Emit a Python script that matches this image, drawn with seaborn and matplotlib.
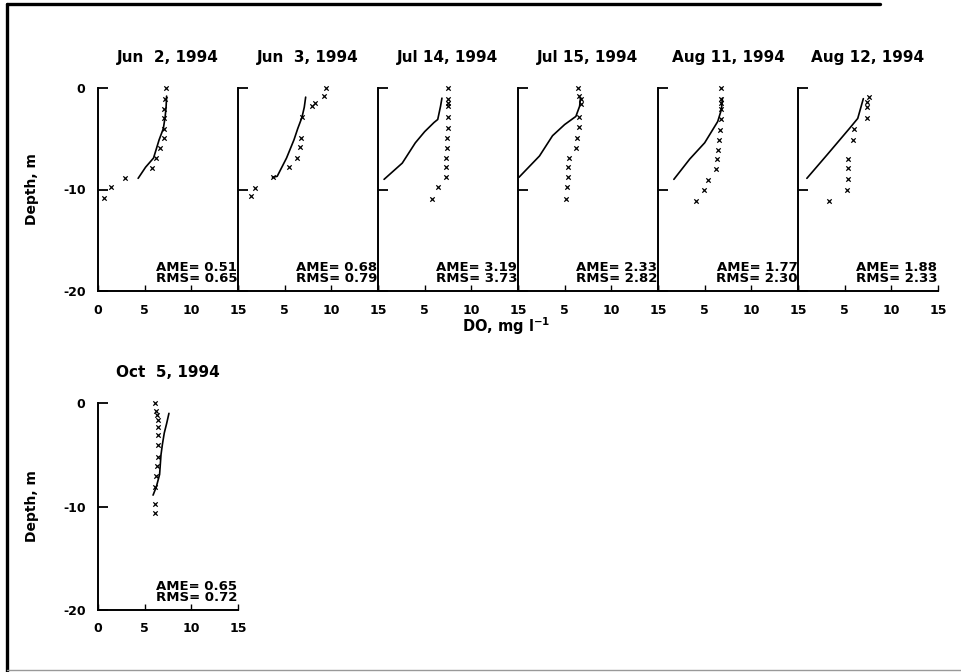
import matplotlib
matplotlib.use("Agg")
import matplotlib.pyplot as plt
import pandas as pd
import seaborn as sns
from matplotlib.lines import Line2D

sns.set_theme(style="white")
plt.rcParams["font.family"] = ["DejaVu Sans"]
plt.rcParams["mathtext.default"] = "bf"
plt.rcParams["text.color"] = "black"
plt.rcParams["axes.labelcolor"] = "black"
plt.rcParams["xtick.color"] = "black"
plt.rcParams["ytick.color"] = "black"

# Sampling dates, one panel each
dates = ["Jun  2, 1994", "Jun  3, 1994", "Jul 14, 1994", "Jul 15, 1994",
         "Aug 11, 1994", "Aug 12, 1994", "Oct  5, 1994"]

# Goodness-of-fit statistics per date
ame = [0.51, 0.68, 3.19, 2.33, 1.77, 1.88, 0.65]
rms = [0.65, 0.79, 3.73, 2.82, 2.30, 2.33, 0.72]

# Measured dissolved oxygen profiles (mg/l) and depths (m)
jun02_obs_do = [7.3, 7.2, 7.1, 7.05, 7.05, 7.05, 6.6, 6.2, 5.8, 2.9, 1.35, 0.65]
jun02_obs_z = [0.0, -1.1, -2.1, -3.0, -4.0, -4.9, -5.9, -6.9, -7.9, -8.9, -9.8, -10.8]
jun03_obs_do = [9.4, 9.2, 8.3, 7.9, 6.9, 6.7, 6.6, 6.3, 5.5, 3.8, 1.8, 1.35]
jun03_obs_z = [0.0, -0.8, -1.5, -1.8, -2.9, -4.9, -5.8, -6.9, -7.8, -8.8, -9.9, -10.6]
jul14_obs_do = [7.45, 7.45, 7.45, 7.45, 7.45, 7.45, 7.4, 7.4, 7.3, 7.3, 7.3, 6.4, 5.8]
jul14_obs_z = [0.0, -1.1, -1.5, -1.8, -2.9, -3.9, -4.9, -5.9, -6.9, -7.8, -8.8, -9.8, -10.9]
jul15_obs_do = [6.4, 6.5, 6.75, 6.7, 6.5, 6.5, 6.3, 6.2, 5.5, 5.4, 5.35, 5.25, 5.15]
jul15_obs_z = [0.0, -0.8, -1.1, -1.6, -2.9, -3.8, -4.9, -5.9, -6.9, -7.8, -8.8, -9.8, -10.9]
aug11_obs_do = [6.7, 6.75, 6.8, 6.75, 6.7, 6.65, 6.55, 6.45, 6.3, 6.25, 5.4, 4.9, 4.05]
aug11_obs_z = [0.0, -1.1, -1.5, -2.1, -3.1, -4.1, -5.1, -6.1, -7.0, -8.0, -9.1, -10.0, -11.1]
aug12_obs_do = [7.6, 7.4, 7.4, 7.4, 6.0, 5.9, 5.4, 5.4, 5.35, 5.3, 3.3]
aug12_obs_z = [-0.9, -1.4, -1.9, -3.0, -4.0, -5.1, -7.0, -7.9, -9.0, -10.0, -11.1]
oct05_obs_do = [6.1, 6.2, 6.35, 6.45, 6.45, 6.45, 6.45, 6.4, 6.3, 6.2, 6.1, 6.1, 6.1]
oct05_obs_z = [0.0, -0.8, -1.2, -1.6, -2.3, -3.1, -4.1, -5.2, -6.1, -7.1, -8.1, -9.8, -10.6]

# Simulated dissolved oxygen profiles (mg/l) and depths (m)
jun02_mod_do = [7.35, 7.3, 7.2, 7.0, 6.55, 5.95, 5.1, 4.3]
jun02_mod_z = [-0.8, -1.8, -2.8, -4.0, -5.1, -6.9, -7.8, -8.9]
jun03_mod_do = [7.25, 7.1, 6.85, 6.4, 6.0, 5.2, 4.2, 3.7]
jun03_mod_z = [-0.9, -1.9, -2.9, -4.0, -5.1, -6.9, -8.7, -8.8]
jul14_mod_do = [6.85, 6.7, 6.4, 6.0, 5.0, 4.0, 2.6, 0.65]
jul14_mod_z = [-1.0, -1.8, -3.1, -3.4, -4.3, -5.4, -7.4, -9.0]
jul15_mod_do = [6.7, 6.6, 6.2, 5.0, 3.7, 2.3, 0.1]
jul15_mod_z = [-1.0, -1.8, -2.8, -3.6, -4.7, -6.7, -8.8]
aug11_mod_do = [6.9, 6.8, 6.4, 5.0, 3.4, 1.7]
aug11_mod_z = [-1.0, -2.1, -3.3, -5.4, -7.0, -9.0]
aug12_mod_do = [7.0, 6.4, 5.5, 4.3, 3.1, 0.95]
aug12_mod_z = [-1.05, -3.0, -4.0, -5.3, -6.6, -8.9]
oct05_mod_do = [7.6, 7.35, 7.1, 6.9, 6.75, 6.6, 6.25, 5.9]
oct05_mod_z = [-1.0, -2.0, -2.9, -4.0, -5.0, -6.9, -8.1, -8.9]

obs_do = [jun02_obs_do, jun03_obs_do, jul14_obs_do, jul15_obs_do,
          aug11_obs_do, aug12_obs_do, oct05_obs_do]
obs_z = [jun02_obs_z, jun03_obs_z, jul14_obs_z, jul15_obs_z,
         aug11_obs_z, aug12_obs_z, oct05_obs_z]
mod_do = [jun02_mod_do, jun03_mod_do, jul14_mod_do, jul15_mod_do,
          aug11_mod_do, aug12_mod_do, oct05_mod_do]
mod_z = [jun02_mod_z, jun03_mod_z, jul14_mod_z, jul15_mod_z,
         aug11_mod_z, aug12_mod_z, oct05_mod_z]

x_ticks = [0, 5, 10, 15]
y_ticks = [0, -10, -20]

W, H = 962, 672
fig = plt.figure(figsize=(W / 100, H / 100), dpi=100)
fig.patch.set_facecolor("white")


def px_axes(left, top, width, height):
    return fig.add_axes([left / W, 1 - (top + height) / H, width / W, height / H])


panel_w = 140
positions = [(98 + i * panel_w, 88, panel_w, 203) for i in range(6)]
positions.append((98, 403, panel_w, 207))

FS_TICK = 9
for i, (l, t, w, h) in enumerate(positions):
    ax = px_axes(l, t, w, h)
    ax.set_facecolor("none")
    obs = pd.DataFrame({"do": obs_do[i], "depth": obs_z[i]})
    mod = pd.DataFrame({"do": mod_do[i], "depth": mod_z[i]})
    sns.lineplot(data=mod, x="do", y="depth", sort=False, estimator=None,
                 color="black", linewidth=1.2, ax=ax, legend=False)
    sns.scatterplot(data=obs, x="do", y="depth", marker="x", s=10,
                    color="black", linewidth=0.9, ax=ax, legend=False,
                    clip_on=False)
    ax.set_xlim(0, 15)
    ax.set_ylim(-20, 0)
    ax.set_xlabel("")
    ax.set_ylabel("")
    for s in ("top", "right"):
        ax.spines[s].set_visible(False)
    for s in ("left", "bottom"):
        ax.spines[s].set_color("black")
        ax.spines[s].set_linewidth(1.4)
    ax.set_xticks(x_ticks)
    ax.set_yticks(y_ticks)
    first_col = i in (0, 6)
    ax.set_xticklabels([str(v) if (first_col or v != 0) else "" for v in x_ticks],
                       fontsize=FS_TICK, fontweight="bold")
    if first_col:
        ax.set_yticklabels([str(v) for v in y_ticks], fontsize=FS_TICK,
                           fontweight="bold")
    else:
        ax.set_yticklabels([])
    ax.tick_params(axis="y", direction="in", length=7, width=1.3, pad=9,
                   colors="black", left=True)
    ax.tick_params(axis="x", direction="in", length=4, width=1.0, pad=9,
                   colors="black", bottom=True)
    ax.set_title(dates[i], fontsize=11, fontweight="bold", pad=19,
                 color="black")
    ax.text(0.995, 0.03, f"AME= {ame[i]:.2f}\nRMS= {rms[i]:.2f}",
            transform=ax.transAxes, ha="right", va="bottom",
            multialignment="right", fontsize=9.5, fontweight="bold",
            linespacing=0.8, color="black")
    if first_col:
        ax.text(-0.47, 0.5, "Depth, m", transform=ax.transAxes, rotation=90,
                ha="center", va="center", fontsize=10, fontweight="bold",
                color="black")

fig.text(506 / W, 1 - 326 / H, "DO, mg l$^{-1}$", ha="center",
         va="center", fontsize=10.5, fontweight="bold", color="black")

# Outer frame: heavy left and top rules, faint bottom rule
fig.add_artist(Line2D([7 / W, 7 / W], [0, 1 - 4 / H], transform=fig.transFigure,
                      color="black", linewidth=2.4))
fig.add_artist(Line2D([7 / W, 880 / W], [1 - 4 / H, 1 - 4 / H],
                      transform=fig.transFigure, color="black", linewidth=2.4))
fig.add_artist(Line2D([7 / W, 1], [1 - 670 / H, 1 - 670 / H],
                      transform=fig.transFigure, color="#999999", linewidth=1.0))

fig.savefig("out.png", dpi=100, facecolor="white")
